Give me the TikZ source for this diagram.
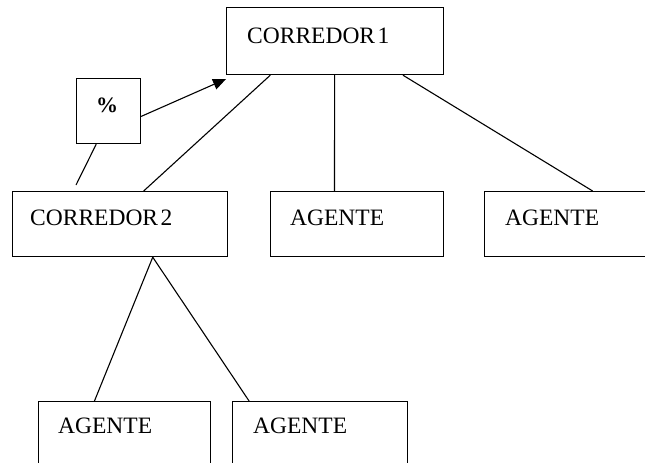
\documentclass[tikz,border=0pt]{standalone}
\usepackage{fontspec}
\setmainfont{Liberation Serif}
\usetikzlibrary{arrows.meta,calc}
\tikzset{
  box/.style={draw, line width=1.2pt, inner sep=0pt, anchor=north west, rectangle},
  lbl/.style={anchor=base west, inner sep=0pt, font=\fontsize{23.5}{27}\selectfont},
  conn/.style={line width=1.1pt},
}
\begin{document}
\begin{tikzpicture}[x=1pt,y=-1pt]
\useasboundingbox (0,0) rectangle (645,463);
\clip (0,0) rectangle (645,463);
% boxes
\node[box, minimum width=217pt, minimum height=67pt] (c1) at (226,7) {};
\node[box, minimum width=64pt, minimum height=65pt] (p) at (76,78) {};
\node[box, minimum width=215pt, minimum height=65pt] (c2) at (12,191) {};
\node[box, minimum width=173pt, minimum height=65pt] (a1) at (270,191) {};
\node[box, minimum width=200pt, minimum height=65pt] (a2) at (484,191) {};
\node[box, minimum width=172pt, minimum height=80pt] (b1) at (38,401) {};
\node[box, minimum width=175pt, minimum height=80pt] (b2) at (232,401) {};
% labels
\node[lbl] (t1) at (247,43) {CORREDOR\kern0.1em 1};
\node[lbl, font=\fontsize{22}{26}\selectfont\bfseries] (tp) at (96,112) {\%};
\node[lbl] (t2) at (30,225) {CORREDOR\kern0.1em 2};
\node[lbl] (t3) at (290,225) {AGENTE};
\node[lbl] (t4) at (505,225) {AGENTE};
\node[lbl] (t5) at (58,433) {AGENTE};
\node[lbl] (t6) at (253,433) {AGENTE};
% connectors
\coordinate (pend) at (76,185);
\coordinate (tip) at (226,79);
\draw[conn] ($(c1.south west)!0.203!(c1.south east)$) -- ($(c2.north west)!0.609!(c2.north east)$);
\draw[conn] ($(c1.south west)!0.498!(c1.south east)$) -- ($(a1.north west)!0.37!(a1.north east)$);
\draw[conn] ($(c1.south west)!0.811!(c1.south east)$) -- ($(a2.north west)!0.54!(a2.north east)$);
\draw[conn] ($(p.south west)!0.31!(p.south east)$) -- (pend);
\draw[conn, -{Triangle[length=13pt,width=11pt]}] ($(p.north east)!0.58!(p.south east)$) -- (tip);
\draw[conn] ($(c2.south west)!0.651!(c2.south east)$) -- ($(b1.north west)!0.326!(b1.north east)$);
\draw[conn] ($(c2.south west)!0.651!(c2.south east)$) -- ($(b2.north west)!0.097!(b2.north east)$);
\end{tikzpicture}
\end{document}
